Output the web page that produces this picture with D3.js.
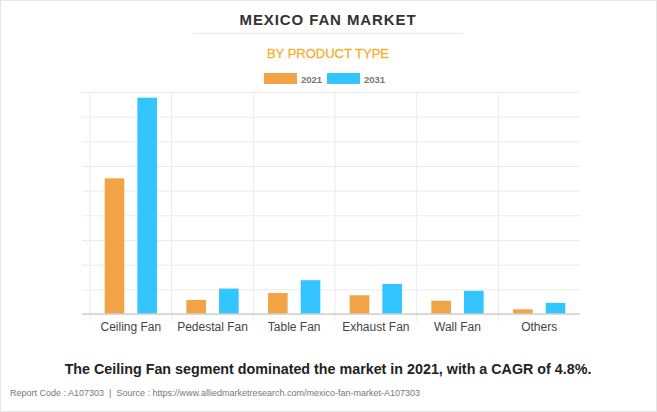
<!DOCTYPE html>
<html>
<head>
<meta charset="utf-8">
<script src="https://cdn.jsdelivr.net/npm/d3@7"></script>
<style>
  body { margin: 0; background: #fff; }
  svg { display: block; font-family: "Liberation Sans", Arial, sans-serif; }
</style>
</head>
<body>
<svg id="chart" width="657" height="412"></svg>
<script>
// values (grid step = 100)
const categories = ['Ceiling Fan', 'Pedestal Fan', 'Table Fan', 'Exhaust Fan', 'Wall Fan', 'Others'];
const years = ['2021', '2031'];
const values2021 = [550, 57, 85, 76, 54, 19];
const values2031 = [877, 103, 137, 122, 94, 45];
const yTicks = [0, 100, 200, 300, 400, 500, 600, 700, 800, 900];

const colors = {'2021': '#F2A345', '2031': '#33C5FF'};

const width = 657, height = 412;
const margin = ({top: 92, right: 77, bottom: 98, left: 90});

const data = categories.map((c, i) => ({cat: c, '2021': values2021[i], '2031': values2031[i]}));

const svg = d3.select('#chart');

// frame
svg.append('rect')
    .attr('x', 0.5).attr('y', 0.5)
    .attr('width', width - 1).attr('height', height - 1)
    .attr('fill', '#fff').attr('stroke', '#e6e6e6');

const xScale = d3.scaleBand()
    .domain(categories)
    .range([margin.left, width - margin.right]);

const yScale = d3.scaleLinear()
    .domain([0, 900])
    .range([height - margin.bottom, margin.top]);

// horizontal grid
svg.append('g')
    .attr('transform', `translate(${margin.left}, 0)`)
    .call(d3.axisLeft(yScale).tickValues(yTicks).tickSize(-(width - margin.left - margin.right)).tickFormat(''))
    .call(g => g.select('.domain').remove())
    .call(g => g.selectAll('.tick line').attr('stroke', '#ebebeb').attr('x1', -8));

// vertical grid at category boundaries
const bounds = categories.map(c => xScale(c));
svg.append('g')
    .selectAll('line')
    .data(bounds)
    .join('line')
    .attr('x1', d => d).attr('x2', d => d)
    .attr('y1', margin.top).attr('y2', height - margin.bottom + 7)
    .attr('stroke', '#ebebeb');

// bars: 80% of the band shared by two slots, bar is 60% of a slot
const slot = xScale.bandwidth() * 0.8 / 2;
const barW = slot * 0.6;
svg.append('g')
    .selectAll('g')
    .data(years)
    .join('g')
    .attr('fill', d => colors[d])
    .selectAll('rect')
    .data(y => data.map(d => ({cat: d.cat, year: y, value: d[y]})))
    .join('rect')
    .attr('x', d => {
        const start = xScale(d.cat) + xScale.bandwidth() * 0.1;
        return start + years.indexOf(d.year) * slot + (slot - barW) / 2;
    })
    .attr('y', d => yScale(d.value))
    .attr('width', barW)
    .attr('height', d => yScale(0) - yScale(d.value));

// baseline
svg.append('line')
    .attr('x1', margin.left - 8).attr('x2', width - margin.right)
    .attr('y1', yScale(0)).attr('y2', yScale(0))
    .attr('stroke', '#d0d0d0').attr('stroke-width', 1.5);

// x labels
svg.append('g')
    .attr('transform', `translate(0, ${height - margin.bottom})`)
    .call(d3.axisBottom(xScale).tickSize(0).tickPadding(8))
    .call(g => g.select('.domain').remove())
    .call(g => g.selectAll('text').attr('font-size', 12).attr('fill', '#444')
        .attr('font-family', '"Liberation Sans", Arial, sans-serif'));

// titles
svg.append('text')
    .attr('x', 328).attr('y', 25)
    .attr('text-anchor', 'middle')
    .attr('font-size', 15).attr('font-weight', 'bold')
    .attr('letter-spacing', 0.9)
    .attr('fill', '#333')
    .text('MEXICO FAN MARKET');

svg.append('line')
    .attr('x1', 193).attr('x2', 463)
    .attr('y1', 33.5).attr('y2', 33.5)
    .attr('stroke', '#ececec').attr('stroke-width', 1.5);

svg.append('text')
    .attr('x', 328).attr('y', 58)
    .attr('text-anchor', 'middle')
    .attr('font-size', 13)
    .attr('fill', '#F7AE2E')
    .attr('stroke', '#F7AE2E').attr('stroke-width', 0.3)
    .text('BY PRODUCT TYPE');

// legend
const legend = svg.append('g')
    .selectAll('g')
    .data(years)
    .join('g')
    .attr('transform', (d, i) => `translate(${264 + i * 63}, 73)`);
legend.append('rect')
    .attr('width', 33).attr('height', 11)
    .attr('fill', d => colors[d]);
legend.append('text')
    .attr('x', 37).attr('y', 9.5)
    .attr('font-size', 9.5).attr('font-weight', 'bold')
    .attr('fill', '#777')
    .text(d => d);

// caption
svg.append('text')
    .attr('x', 328).attr('y', 374)
    .attr('text-anchor', 'middle')
    .attr('font-size', 14.3).attr('font-weight', 'bold')
    .attr('fill', '#222')
    .text('The Ceiling Fan segment dominated the market in 2021, with a CAGR of 4.8%.');

svg.append('text')
    .attr('x', 10).attr('y', 396)
    .attr('font-size', 9)
    .attr('fill', '#777')
    .attr('xml:space', 'preserve')
    .text('Report Code : A107303  |  Source : https://www.alliedmarketresearch.com/mexico-fan-market-A107303');
</script>
</body>
</html>
